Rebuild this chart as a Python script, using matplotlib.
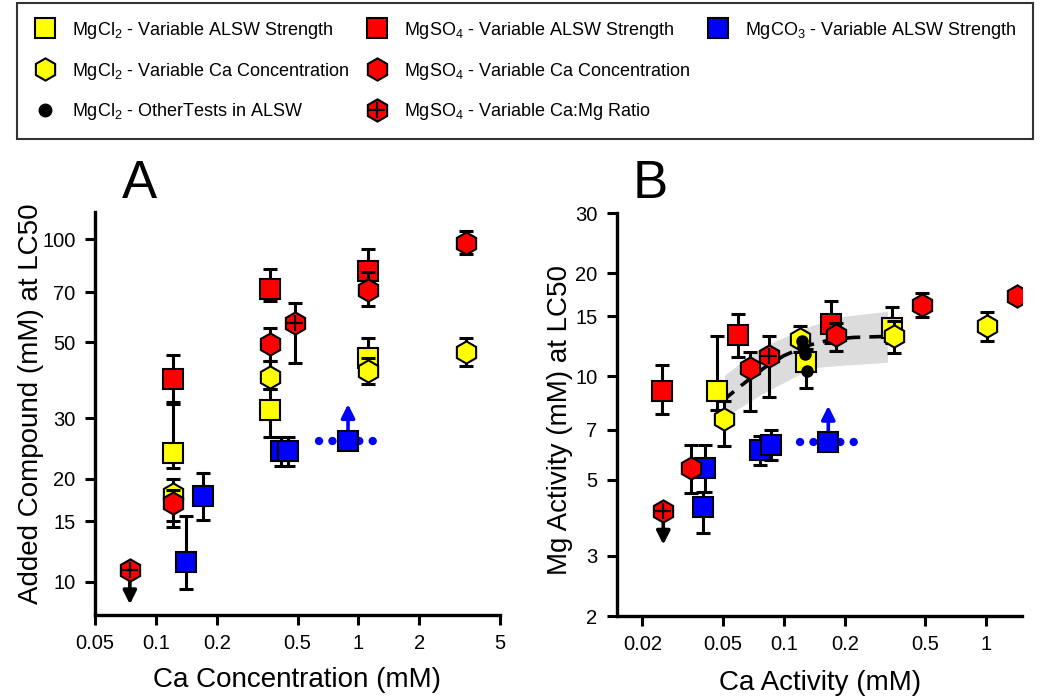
import numpy as np
import matplotlib
matplotlib.use('Agg')
import matplotlib.pyplot as plt
from matplotlib.lines import Line2D
from matplotlib.legend_handler import HandlerTuple
from matplotlib.ticker import FixedLocator, FixedFormatter, NullLocator

plt.rcParams['font.family'] = ['Liberation Sans', 'DejaVu Sans']
plt.rcParams['mathtext.default'] = 'regular'

YEL, RED, BLU = '#ffff00', '#ff0000', '#0000ff'
nan = np.nan

# ---- panel A : Ca concentration vs added compound at LC50 ----
a_ysq_x = [0.121, 0.367, 1.12]
a_ysq_y = [23.7, 31.7, 45.1]
a_ysq_lo = [21.5, 26.5, 40.0]
a_ysq_hi = [33.0, 36.5, 51.6]

a_yhex_x = [0.121, 0.367, 1.12, 3.41]
a_yhex_y = [18.0, 39.7, 41.3, 46.7]
a_yhex_lo = [15.0, 36.5, 37.7, 42.7]
a_yhex_hi = [20.0, 44.0, 45.0, 51.6]

a_rsq_x = [0.121, 0.367, 1.12]
a_rsq_y = [39.0, 71.5, 80.8]
a_rsq_lo = [33.5, 66.0, 72.0]
a_rsq_hi = [45.9, 82.0, 93.5]

a_rhex_x = [0.121, 0.367, 1.12, 3.41]
a_rhex_y = [17.0, 49.5, 71.0, 97.7]
a_rhex_lo = [14.5, 44.2, 63.9, 90.3]
a_rhex_hi = [18.5, 55.2, 80.0, 105.7]

a_rx_x = [0.0743, 0.484]
a_rx_y = [10.8, 56.8]
a_rx_lo = [nan, 43.4]
a_rx_hi = [nan, 65.0]

a_bsq_x = [0.140, 0.171, 0.416, 0.449, 0.888]
a_bsq_y = [11.4, 17.8, 24.1, 24.1, 25.8]
a_bsq_lo = [9.5, 15.2, 21.8, 21.8, nan]
a_bsq_hi = [15.6, 20.8, 26.4, 26.4, nan]

a_down = (0.0743, 10.8, 8.6)          # x, from, to
a_up = (0.888, 25.8, 33.0)
a_dot_range = (0.636, 1.245)

# ---- panel B : Ca activity vs Mg activity at LC50 ----
b_ysq_x = [0.0467, 0.128, 0.344]
b_ysq_y = [9.1, 11.06, 13.84]
b_ysq_lo = [8.0, 9.25, 12.5]
b_ysq_hi = [13.1, 12.0, 15.9]

b_yhex_x = [0.0508, 0.1197, 0.351, 1.01]
b_yhex_y = [7.51, 12.85, 13.14, 14.06]
b_yhex_lo = [6.28, 11.8, 11.7, 12.73]
b_yhex_hi = [8.5, 14.06, 14.5, 15.47]

b_dot_x = [0.123, 0.125, 0.127, 0.130]
b_dot_y = [12.7, 12.2, 11.6, 10.35]

b_rsq_x = [0.0251, 0.0594, 0.1716]
b_rsq_y = [9.1, 13.2, 14.25]
b_rsq_lo = [7.78, 11.4, 12.5]
b_rsq_hi = [10.77, 15.2, 16.6]

b_rhex_x = [0.0348, 0.0684, 0.1804, 0.4817, 1.418]
b_rhex_y = [5.40, 10.6, 13.2, 16.19, 17.12]
b_rhex_lo = [4.58, 7.95, 11.9, 14.9, nan]
b_rhex_hi = [6.31, 11.8, 14.3, 17.5, nan]

b_rx_x = [0.0254, 0.0849]
b_rx_y = [4.04, 11.49]
b_rx_lo = [nan, 8.74]
b_rx_hi = [nan, 13.1]

b_bsq_x = [0.0409, 0.040, 0.0766, 0.0869, 0.1658]
b_bsq_y = [5.4, 4.17, 6.11, 6.29, 6.46]
b_bsq_lo = [4.6, 3.49, 5.5, 5.71, nan]
b_bsq_hi = [6.3, 4.6, 6.7, 6.99, nan]

b_down = (0.0254, 4.04, 3.23)
b_up = (0.1658, 6.46, 8.21)
b_dot_range = (0.12, 0.228)

fit_x = [0.05, 0.06, 0.08, 0.1, 0.13, 0.17, 0.22, 0.33]
fit_y = [8.5, 9.3, 10.6, 11.5, 12.3, 12.8, 13.0, 13.1]
band_x = [0.051, 0.078, 0.138, 0.2, 0.325]
band_lo = [7.6, 8.9, 10.6, 10.8, 11.0]
band_hi = [10.1, 12.2, 14.1, 15.0, 15.5]


def series(ax, x, y, lo, hi, marker, color, ms, z, cross=False):
    x = np.array(x); y = np.array(y); lo = np.array(lo); hi = np.array(hi)
    ok = ~np.isnan(lo)
    if ok.any():
        ax.errorbar(x[ok], y[ok], yerr=[y[ok] - lo[ok], hi[ok] - y[ok]], fmt='none',
                    ecolor='black', elinewidth=2.2, capsize=5, capthick=2.2, zorder=z)
    ax.plot(x, y, ls='none', marker=marker, ms=ms, mfc=color, mec='black', mew=1.5, zorder=z + 0.5)
    if cross:
        ax.plot(x, y, ls='none', marker='+', ms=11, mec='black', mew=1.6, zorder=z + 0.6)


def arrow(ax, x, y0, y1, color):
    ax.annotate('', xy=(x, y1), xytext=(x, y0),
                arrowprops=dict(arrowstyle='-|>', color=color, lw=2.6, mutation_scale=20,
                                shrinkA=0, shrinkB=0), zorder=2)


def style(ax, xlim, ylim, xt, yt):
    ax.set_xscale('log'); ax.set_yscale('log')
    ax.set_xlim(*xlim); ax.set_ylim(*ylim)
    ax.xaxis.set_major_locator(FixedLocator(xt))
    ax.xaxis.set_major_formatter(FixedFormatter([('%g' % v) for v in xt]))
    ax.yaxis.set_major_locator(FixedLocator(yt))
    ax.yaxis.set_major_formatter(FixedFormatter([('%g' % v) for v in yt]))
    ax.xaxis.set_minor_locator(NullLocator()); ax.yaxis.set_minor_locator(NullLocator())
    for s in ['top', 'right']:
        ax.spines[s].set_visible(False)
    for s in ['left', 'bottom']:
        ax.spines[s].set_linewidth(2.4)
    ax.tick_params(which='major', direction='out', length=7, width=2.2, labelsize=14.5, pad=7)


fig = plt.figure(figsize=(10.5, 7), dpi=100)
axA = fig.add_axes([0.0905, 0.1214, 0.3857, 0.5757])
axB = fig.add_axes([0.5876, 0.12, 0.3857, 0.5757])

# panel A
arrow(axA, a_down[0], a_down[1], a_down[2], 'black')
arrow(axA, a_up[0], a_up[1], a_up[2], BLU)
axA.plot(a_dot_range, [a_up[1], a_up[1]], color=BLU, lw=6, ls=(0, (0.01, 1.6)),
         dash_capstyle='round', zorder=2)
series(axA, a_bsq_x, a_bsq_y, a_bsq_lo, a_bsq_hi, 's', BLU, 14, 3)
series(axA, a_ysq_x, a_ysq_y, a_ysq_lo, a_ysq_hi, 's', YEL, 14, 4)
series(axA, a_rsq_x, a_rsq_y, a_rsq_lo, a_rsq_hi, 's', RED, 14, 5)
series(axA, a_yhex_x, a_yhex_y, a_yhex_lo, a_yhex_hi, 'h', YEL, 16, 6)
series(axA, a_rhex_x, a_rhex_y, a_rhex_lo, a_rhex_hi, 'h', RED, 16, 7)
series(axA, a_rx_x, a_rx_y, a_rx_lo, a_rx_hi, 'h', RED, 16, 8, cross=True)
style(axA, (0.05, 5), (8, 120), [0.05, 0.1, 0.2, 0.5, 1, 2, 5], [10, 15, 20, 30, 50, 70, 100])

# panel B
axB.fill_between(band_x, band_lo, band_hi, color='#dcdcdc', lw=0, zorder=1)
axB.plot(fit_x, fit_y, color='black', lw=2.6, ls=(0, (4, 2.5)), zorder=2)
arrow(axB, b_down[0], b_down[1], b_down[2], 'black')
arrow(axB, b_up[0], b_up[1], b_up[2], BLU)
axB.plot(b_dot_range, [b_up[1], b_up[1]], color=BLU, lw=6, ls=(0, (0.01, 1.6)),
         dash_capstyle='round', zorder=2)
series(axB, b_bsq_x, b_bsq_y, b_bsq_lo, b_bsq_hi, 's', BLU, 14, 3)
series(axB, b_ysq_x, b_ysq_y, b_ysq_lo, b_ysq_hi, 's', YEL, 14, 4)
series(axB, b_rsq_x, b_rsq_y, b_rsq_lo, b_rsq_hi, 's', RED, 14, 5)
series(axB, b_yhex_x, b_yhex_y, b_yhex_lo, b_yhex_hi, 'h', YEL, 16, 6)
series(axB, b_rhex_x, b_rhex_y, b_rhex_lo, b_rhex_hi, 'h', RED, 16, 7)
series(axB, b_rx_x, b_rx_y, b_rx_lo, b_rx_hi, 'h', RED, 16, 8, cross=True)
axB.plot(b_dot_x, b_dot_y, ls='none', marker='o', ms=8, color='black', zorder=9)
style(axB, (0.015, 1.5), (2, 30), [0.02, 0.05, 0.1, 0.2, 0.5, 1], [2, 3, 5, 7, 10, 15, 20, 30])

# labels
fig.text(0.0295, 0.424, 'Added Compound (mM) at LC50', rotation=90, ha='center', va='center', fontsize=20)
fig.text(0.533, 0.40, 'Mg Activity (mM) at LC50', rotation=90, ha='center', va='center', fontsize=20)
fig.text(0.283, 0.028, 'Ca Concentration (mM)', ha='center', va='center', fontsize=20)
fig.text(0.781, 0.024, 'Ca Activity (mM)', ha='center', va='center', fontsize=20)
fig.text(0.133, 0.717, 'A', ha='center', va='baseline', fontsize=38)
fig.text(0.619, 0.717, 'B', ha='center', va='baseline', fontsize=38)

# legend
def mk(marker, color, ms=14):
    return Line2D([], [], ls='none', marker=marker, ms=ms, mfc=color, mec='black', mew=1.5)

blank = Line2D([], [], ls='none')
handles = [mk('s', YEL), mk('h', YEL, 16), Line2D([], [], ls='none', marker='o', ms=9, color='black'),
           mk('s', RED), mk('h', RED, 16),
           (mk('h', RED, 16), Line2D([], [], ls='none', marker='+', ms=11, mec='black', mew=1.6)),
           mk('s', BLU), blank, blank]
labels = ['MgCl$_2$ - Variable ALSW Strength', 'MgCl$_2$ - Variable Ca Concentration',
          'MgCl$_2$ - OtherTests in ALSW',
          'MgSO$_4$ - Variable ALSW Strength', 'MgSO$_4$ - Variable Ca Concentration',
          'MgSO$_4$ - Variable Ca:Mg Ratio',
          'MgCO$_3$ - Variable ALSW Strength', ' ', ' ']
leg = fig.legend(handles, labels, ncol=3, loc='center', mode='expand',
                 bbox_to_anchor=(0.008, 0.804, 0.984, 0.189), fontsize=13,
                 handler_map={tuple: HandlerTuple(ndivide=1, pad=0)},
                 frameon=True, fancybox=False, edgecolor='black', handlelength=1.2,
                 handletextpad=0.9, labelspacing=1.1, borderpad=0.9, columnspacing=1.0)
leg.get_frame().set_linewidth(1.5)

fig.savefig('out.png', dpi=100)
